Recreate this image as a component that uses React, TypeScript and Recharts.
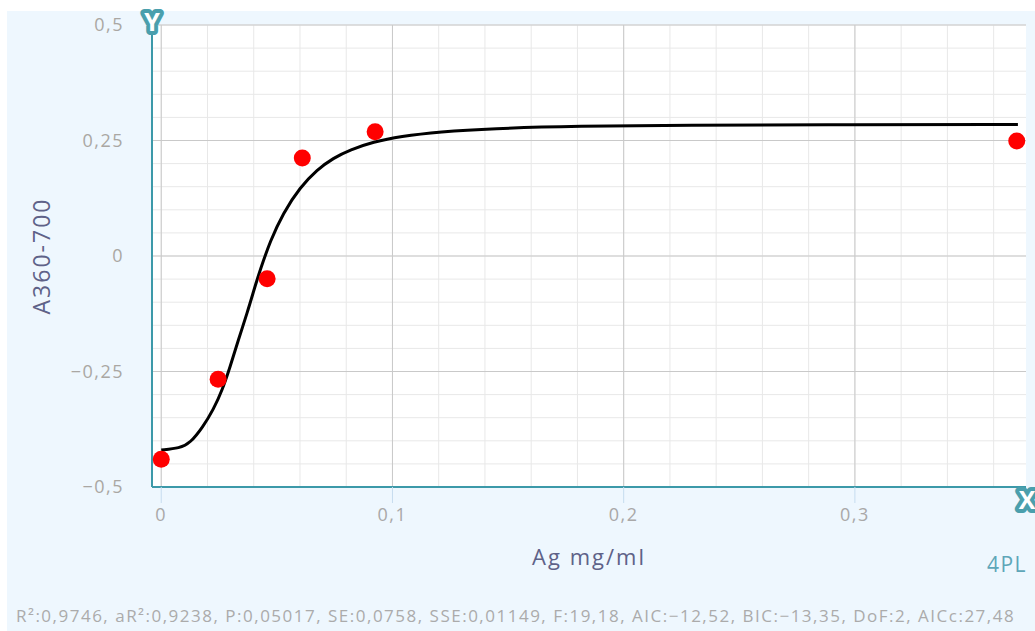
import React from "react";
import { ComposedChart, Line, Scatter, XAxis, YAxis, CartesianGrid, Label } from "recharts";

// fitted 4PL curve
const CURVE_X = [0, 0.008, 0.0125, 0.018, 0.0225, 0.0264, 0.0298, 0.0333, 0.0372, 0.0406, 0.0428, 0.0471, 0.0527, 0.0601, 0.0674, 0.0744, 0.0817, 0.0917, 0.1033, 0.1206, 0.1422, 0.181, 0.224, 0.3, 0.3705];
const CURVE_Y = [-0.42, -0.416, -0.405, -0.37, -0.333, -0.29, -0.24, -0.182, -0.123, -0.065, -0.03, 0.032, 0.093, 0.149, 0.187, 0.212, 0.23, 0.247, 0.259, 0.269, 0.276, 0.281, 0.2835, 0.2843, 0.2846];

// measured points
const POINT_X = [0, 0.0246, 0.0458, 0.061, 0.0925, 0.37];
const POINT_Y = [-0.44, -0.267, -0.049, 0.212, 0.269, 0.249];

const X_TICKS = [0, 0.1, 0.2, 0.3];
const X_MINOR = [0, 0.02, 0.04, 0.06, 0.08, 0.1, 0.12, 0.14, 0.16, 0.18, 0.2, 0.22, 0.24, 0.26, 0.28, 0.3, 0.32, 0.34, 0.36];
const Y_TICKS = [-0.5, -0.25, 0, 0.25, 0.5];
const Y_MINOR = [-0.5, -0.45, -0.4, -0.35, -0.3, -0.25, -0.2, -0.15, -0.1, -0.05, 0, 0.05, 0.1, 0.15, 0.2, 0.25, 0.3, 0.35, 0.4, 0.45, 0.5];
const X_DOMAIN = [-0.004, 0.374];
const Y_DOMAIN = [-0.5, 0.5];

const STATS = "R²:0,9746, aR²:0,9238, P:0,05017, SE:0,0758, SSE:0,01149, F:19,18, AIC:−12,52, BIC:−13,35, DoF:2, AICc:27,48";

const curveData = CURVE_X.map((x, i) => ({ x, y: CURVE_Y[i] }));
const pointData = POINT_X.map((x, i) => ({ x, y: POINT_Y[i] }));

const TEAL = "#3c99a9";
const FONT = "'Open Sans', sans-serif";
const fmt = (v: number) => String(v).replace(".", ",").replace("-", "−");

const Dot = (props: any) => <circle cx={props.cx} cy={props.cy} r={8.5} fill="#ff0000" />;

export default function App() {
  return (
    <div style={{ position: "absolute", left: 0, top: 0, width: 1035, height: 631, background: "#fff", overflow: "hidden", fontFamily: FONT }}>
      <div style={{ position: "absolute", left: 7, top: 11, right: 0, bottom: 0, background: "#eef7fe" }} />
      <div style={{ position: "absolute", left: 0, top: 0 }}>
        <ComposedChart width={1035} height={631} margin={{ top: 25, right: 9, bottom: 114, left: 12 }}>
          <CartesianGrid fill="#fff" stroke="#e8e8e8" verticalValues={X_MINOR} horizontalValues={Y_MINOR} />
          <CartesianGrid stroke="#c9c9c9" verticalValues={X_TICKS} horizontalValues={Y_TICKS} />
          <XAxis
            type="number"
            dataKey="x"
            domain={X_DOMAIN}
            ticks={X_TICKS}
            interval={0}
            allowDataOverflow
            height={30}
            tickFormatter={fmt}
            tick={{ fill: "#a9a8a8", fontSize: 18, fontFamily: FONT, letterSpacing: 1.5 }}
            tickLine={{ stroke: "#c6dcef" }}
            tickSize={16}
            tickMargin={5}
            axisLine={{ stroke: TEAL, strokeWidth: 2 }}
          >
            <Label value="Ag mg/ml" position="center" dy={55} fill="#5e6288" fontSize={22} letterSpacing={2} fontFamily={FONT} />
          </XAxis>
          <YAxis
            type="number"
            dataKey="y"
            domain={Y_DOMAIN}
            ticks={Y_TICKS}
            interval={0}
            allowDataOverflow
            width={140}
            tickFormatter={fmt}
            tick={{ fill: "#aaa7a3", fontSize: 18, fontFamily: FONT, letterSpacing: 1.5 }}
            tickLine={false}
            tickSize={0}
            tickMargin={28}
            axisLine={{ stroke: TEAL, strokeWidth: 2 }}
          >
            <Label value="A360-700" position="center" angle={-90} dx={-40} fill="#5e6288" fontSize={23} letterSpacing={2} fontFamily={FONT} />
          </YAxis>
          <YAxis yAxisId="r" orientation="right" width={0} domain={Y_DOMAIN} tick={false} tickLine={false} axisLine={{ stroke: TEAL, strokeWidth: 2 }} />
          <Line data={curveData} dataKey="y" type="basis" stroke="#000" strokeWidth={3} dot={false} activeDot={false} isAnimationActive={false} />
          <Scatter data={pointData} dataKey="y" fill="#ff0000" shape={Dot} isAnimationActive={false} />
        </ComposedChart>
      </div>
      <svg style={{ position: "absolute", left: 0, top: 0 }} width={1035} height={631}>
        {[{ t: "Y", x: 152, y: 22 }, { t: "X", x: 1027, y: 500 }].map((b) => (
          <text key={b.t} x={b.x} y={b.y} dy="0.36em" textAnchor="middle" fontSize={25} fontWeight={700} fontFamily={FONT}
            fill="#fff" stroke="#4a9fad" strokeWidth={8} strokeLinejoin="round" paintOrder="stroke">{b.t}</text>
        ))}
      </svg>
      <div style={{ position: "absolute", right: 8, top: 550, color: "#5ea6b8", fontSize: 21, letterSpacing: 1.5 }}>4PL</div>
      <div style={{ position: "absolute", left: 16, top: 604, color: "#ababab", fontSize: 17, whiteSpace: "nowrap", letterSpacing: 1.5 }}>{STATS}</div>
    </div>
  );
}
